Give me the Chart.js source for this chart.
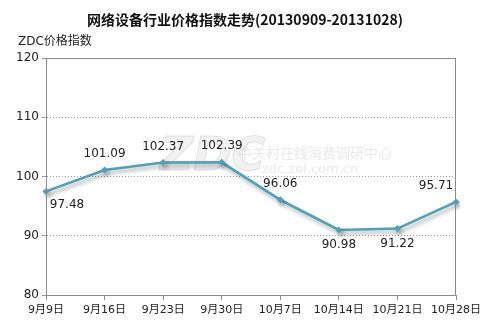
<!DOCTYPE html>
<html>
<head>
<meta charset="utf-8">
<script src="https://cdn.jsdelivr.net/npm/chart.js@4/dist/chart.umd.min.js"></script>
<style>
  html, body { margin: 0; padding: 0; background: #fff; }
  #wrap { width: 490px; height: 324px; position: relative; }
</style>
</head>
<body>
<div id="wrap"><canvas id="c" width="490" height="324"></canvas></div>
<script>
// data
const dates = ['9月9日', '9月16日', '9月23日', '9月30日', '10月7日', '10月14日', '10月21日', '10月28日'];
const index = [97.48, 101.09, 102.37, 102.39, 96.06, 90.98, 91.22, 95.71];
const yTicks = [80, 90, 100, 110, 120];
// where each value label sits: 'above', 'below', 'belowRight', 'aboveLeft'
const labelPos = ['belowRight', 'above', 'above', 'above', 'above', 'below', 'below', 'aboveLeft'];

const title = '网络设备行业价格指数走势(20130909-20131028)';
const unitLabel = 'ZDC价格指数';
const FONT = '"DejaVu Sans", "Noto Sans CJK SC", sans-serif';
const LINE = '#4aa3ba';

const shadow = {
  id: 'shadow',
  beforeDatasetDraw(chart) {
    const ctx = chart.ctx;
    ctx.save();
    ctx.shadowColor = 'rgba(0,0,0,0.35)';
    ctx.shadowBlur = 4;
    ctx.shadowOffsetX = 2;
    ctx.shadowOffsetY = 3;
  },
  afterDatasetDraw(chart) { chart.ctx.restore(); }
};

const extras = {
  id: 'extras',
  beforeDraw(chart) {
    const { ctx } = chart;
    ctx.save();
    // faint watermark
    ctx.fillStyle = 'rgba(210,210,210,0.28)';
    ctx.strokeStyle = 'rgba(190,190,190,0.4)';
    ctx.font = 'italic bold 46px ' + FONT;
    ctx.textBaseline = 'middle';
    ctx.fillText('ZDC', 160, 158);
    ctx.strokeText('ZDC', 160, 158);
    ctx.fillStyle = 'rgba(200,200,200,0.4)';
    ctx.font = '14px "Noto Sans CJK SC", sans-serif';
    ctx.fillText('中关村在线消费调研中心', 238, 153);
    ctx.font = '13px ' + FONT;
    ctx.fillText('zdc.zol.com.cn', 262, 170);
    ctx.restore();
  },
  afterDraw(chart) {
    const { ctx, chartArea: a } = chart;
    ctx.save();
    // box round the plot
    ctx.strokeStyle = '#8a8a8a';
    ctx.lineWidth = 1;
    ctx.strokeRect(a.left + 0.5, a.top + 0.5, a.right - a.left - 1, a.bottom - a.top);
    // titles
    ctx.fillStyle = '#111';
    ctx.textAlign = 'center';
    ctx.textBaseline = 'middle';
    ctx.font = 'bold 14px "Noto Sans CJK SC", sans-serif';
    ctx.fillText(title, 245, 20);
    ctx.textAlign = 'left';
    ctx.font = '12px ' + FONT;
    ctx.fillStyle = '#222';
    ctx.fillText(unitLabel, 18, 42);
    // value labels
    const meta = chart.getDatasetMeta(0);
    ctx.font = '12px ' + FONT;
    ctx.fillStyle = '#222';
    meta.data.forEach((pt, i) => {
      const txt = index[i].toFixed(2);
      let x = pt.x, y = pt.y;
      ctx.textAlign = 'center';
      if (labelPos[i] === 'above') y -= 16;
      else if (labelPos[i] === 'below') y += 15;
      else if (labelPos[i] === 'belowRight') { x += 21; y += 13; }
      else if (labelPos[i] === 'aboveLeft') { x -= 20; y -= 16; }
      ctx.fillText(txt, x, y);
    });
    ctx.restore();
  }
};

new Chart(document.getElementById('c'), {
  type: 'line',
  data: {
    labels: dates,
    datasets: [{
      data: index,
      borderColor: LINE,
      backgroundColor: LINE,
      borderWidth: 2.5,
      pointStyle: 'rectRot',
      pointRadius: 3.5,
      pointBorderWidth: 0,
      tension: 0
    }]
  },
  options: {
    responsive: false,
    animation: false,
    layout: { padding: { top: 58, right: 34, left: 0, bottom: 0 } },
    plugins: { legend: { display: false }, tooltip: { enabled: false } },
    scales: {
      x: {
        offset: false,
        grid: { drawOnChartArea: false, tickLength: 5, color: '#8a8a8a' },
        border: { color: '#8a8a8a' },
        ticks: { color: '#222', font: { size: 11, family: FONT }, maxRotation: 0, autoSkip: false, padding: 4 },
        afterFit(s) { s.height = 29; }
      },
      y: {
        min: 80, max: 120,
        afterBuildTicks(s) { s.ticks = yTicks.map(v => ({ value: v })); },
        grid: { color: '#9a9a9a', tickLength: 4, drawTicks: true },
        border: { color: '#8a8a8a', dash: [1, 2] },
        ticks: { color: '#222', font: { size: 12, family: FONT }, padding: 3 },
        afterFit(s) { s.width = 46; }
      }
    }
  },
  plugins: [shadow, extras]
});
</script>
</body>
</html>
